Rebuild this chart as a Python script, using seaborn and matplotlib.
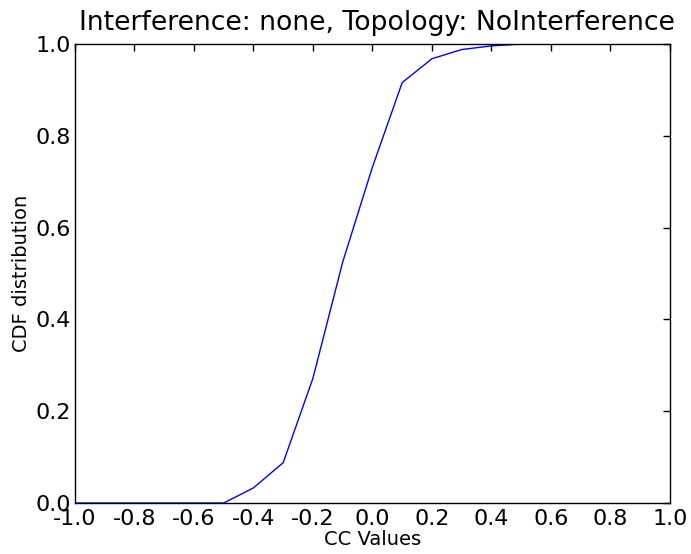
import matplotlib
matplotlib.use("Agg")
import matplotlib.pyplot as plt
import seaborn as sns
import pandas as pd

# CDF of CC values, sampled on a 0.1 grid
cc_values = [-1.0, -0.9, -0.8, -0.7, -0.6, -0.5, -0.4, -0.3, -0.2, -0.1, 0.0,
             0.1, 0.2, 0.3, 0.4, 0.5, 0.6, 0.7, 0.8, 0.9, 1.0]
cdf_values = [0.0, 0.0, 0.0, 0.0, 0.0, 0.0, 0.033, 0.088, 0.272, 0.525, 0.732,
              0.916, 0.968, 0.988, 0.996, 1.0, 1.0, 1.0, 1.0, 1.0, 1.0]
x_ticks = [-1.0, -0.8, -0.6, -0.4, -0.2, 0.0, 0.2, 0.4, 0.6, 0.8, 1.0]
y_ticks = [0.0, 0.2, 0.4, 0.6, 0.8, 1.0]

sns.set_style("white")
plt.rcParams.update({
    "font.family": ["DejaVu Sans"],
    "text.color": "black",
    "axes.labelcolor": "black",
    "xtick.color": "black",
    "ytick.color": "black",
    "xtick.direction": "in",
    "ytick.direction": "in",
    "xtick.top": True,
    "ytick.right": True,
    "xtick.major.size": 5,
    "ytick.major.size": 5,
    "xtick.major.pad": 4,
    "ytick.major.pad": 3,
    "axes.edgecolor": "black",
    "axes.linewidth": 1.0,
})

df = pd.DataFrame({"cc": cc_values, "cdf": cdf_values})

fig = plt.figure(figsize=(6.91, 5.54), dpi=100)
ax = fig.add_axes([0.1085, 0.092, 0.861, 0.8285])
sns.lineplot(data=df, x="cc", y="cdf", color="blue", linewidth=1.0, ax=ax)

ax.set_xlim(-1.0, 1.0)
ax.set_ylim(0.0, 1.0)
ax.set_xticks(x_ticks)
ax.set_yticks(y_ticks)
ax.set_xticklabels([f"{t:.1f}" for t in x_ticks], fontsize=16)
ax.set_yticklabels([f"{t:.1f}" for t in y_ticks], fontsize=16)
ax.tick_params(colors="black", width=1)
ax.set_xlabel("CC Values", fontsize=14, labelpad=1, color="black")
ax.set_ylabel("CDF distribution", fontsize=14, labelpad=3, color="black")
ax.set_title("Interference: none, Topology: NoInterference", fontsize=19.2,
             pad=10, color="black", x=0.508)

fig.savefig("out.png", dpi=100)
